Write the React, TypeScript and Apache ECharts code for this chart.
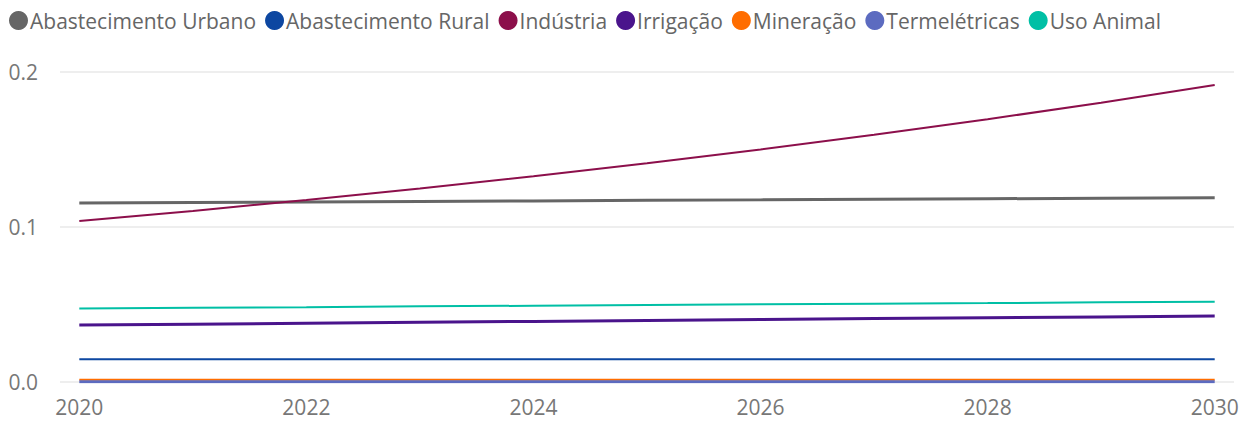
import React, { useEffect, useRef } from "react";
import * as echarts from "echarts";

const years = [2020, 2021, 2022, 2023, 2024, 2025, 2026, 2027, 2028, 2029, 2030];
const xTicks = [2020, 2022, 2024, 2026, 2028, 2030];
const yTicks = [0, 0.1, 0.2];

const seriesNames = [
  "Abastecimento Urbano",
  "Abastecimento Rural",
  "Indústria",
  "Irrigação",
  "Mineração",
  "Termelétricas",
  "Uso Animal",
];
const seriesColors = ["#666666", "#0D47A1", "#8C0F4B", "#4A148C", "#FF6D00", "#5C6BC0", "#00BFA5"];
const seriesWidths = [3, 2, 2, 3, 2, 3, 2];

const abastUrbano = [0.1155, 0.1158, 0.1162, 0.1165, 0.1168, 0.1172, 0.1175, 0.1179, 0.1182, 0.1186, 0.1189];
const abastRural = [0.0146, 0.0146, 0.0146, 0.0146, 0.0146, 0.0146, 0.0146, 0.0146, 0.0146, 0.0146, 0.0146];
const industria = [0.1039, 0.1104, 0.1174, 0.1248, 0.1327, 0.1411, 0.15, 0.1595, 0.1695, 0.1802, 0.1916];
const irrigacao = [0.0368, 0.0373, 0.0379, 0.0385, 0.0391, 0.0397, 0.0403, 0.0409, 0.0414, 0.042, 0.0426];
const mineracao = [0.0015, 0.0015, 0.0015, 0.0015, 0.0015, 0.0015, 0.0015, 0.0015, 0.0015, 0.0015, 0.0015];
const termeletricas = [0.0002, 0.0002, 0.0002, 0.0002, 0.0002, 0.0002, 0.0002, 0.0002, 0.0002, 0.0002, 0.0002];
const usoAnimal = [0.0475, 0.0479, 0.0483, 0.0488, 0.0492, 0.0496, 0.0501, 0.0505, 0.0509, 0.0514, 0.0518];

const seriesData = [abastUrbano, abastRural, industria, irrigacao, mineracao, termeletricas, usoAnimal];

const FONT = "'Open Sans', 'Noto Sans', sans-serif";

export default function App() {
  const ref = useRef<HTMLDivElement>(null);
  useEffect(() => {
    if (!ref.current) return;
    const chart = echarts.init(ref.current, undefined, { renderer: "svg" });
    chart.setOption({
      animation: false,
      backgroundColor: "#ffffff",
      legend: {
        left: 4,
        top: 5,
        itemGap: 9,
        itemWidth: 19,
        itemHeight: 23,
        icon: "circle",
        symbolKeepAspect: false,
        textStyle: { fontFamily: FONT, fontSize: 21, color: "#666666", padding: [0, 0, 0, -3] },
        data: seriesNames.map((n) => ({ name: n, icon: "circle" })),
      },
      grid: { left: 60, right: 19, top: 72, bottom: 41, containLabel: false },
      xAxis: {
        type: "value",
        min: 2019.83,
        max: 2030.17,
        axisLine: { show: false },
        axisTick: { show: false },
        splitLine: { show: false },
        axisLabel: {
          customValues: xTicks,
          color: "#777777",
          fontFamily: FONT,
          fontSize: 21,
          margin: 14,
          formatter: (v: number) => String(v),
        },
      },
      yAxis: {
        type: "value",
        min: 0,
        max: 0.2,
        interval: 0.1,
        axisLine: { show: false },
        axisTick: { show: false },
        axisLabel: {
          customValues: yTicks,
          color: "#777777",
          fontFamily: FONT,
          fontSize: 21,
          margin: 22,
          formatter: (v: number) => v.toFixed(1),
        },
        splitLine: { show: true, lineStyle: { color: "#eeeeee", width: 2 } },
      },
      series: seriesNames.map((name, i) => ({
        name,
        type: "line",
        data: years.map((y, j) => [y, seriesData[i][j]]),
        showSymbol: false,
        symbol: "none",
        color: seriesColors[i],
        lineStyle: { color: seriesColors[i], width: seriesWidths[i] },
        z: i === 4 ? 2 : 3,
      })),
    });
    return () => chart.dispose();
  }, []);
  return (
    <div
      ref={ref}
      style={{ position: "fixed", left: 0, top: 0, width: 1253, height: 423 }}
    />
  );
}
